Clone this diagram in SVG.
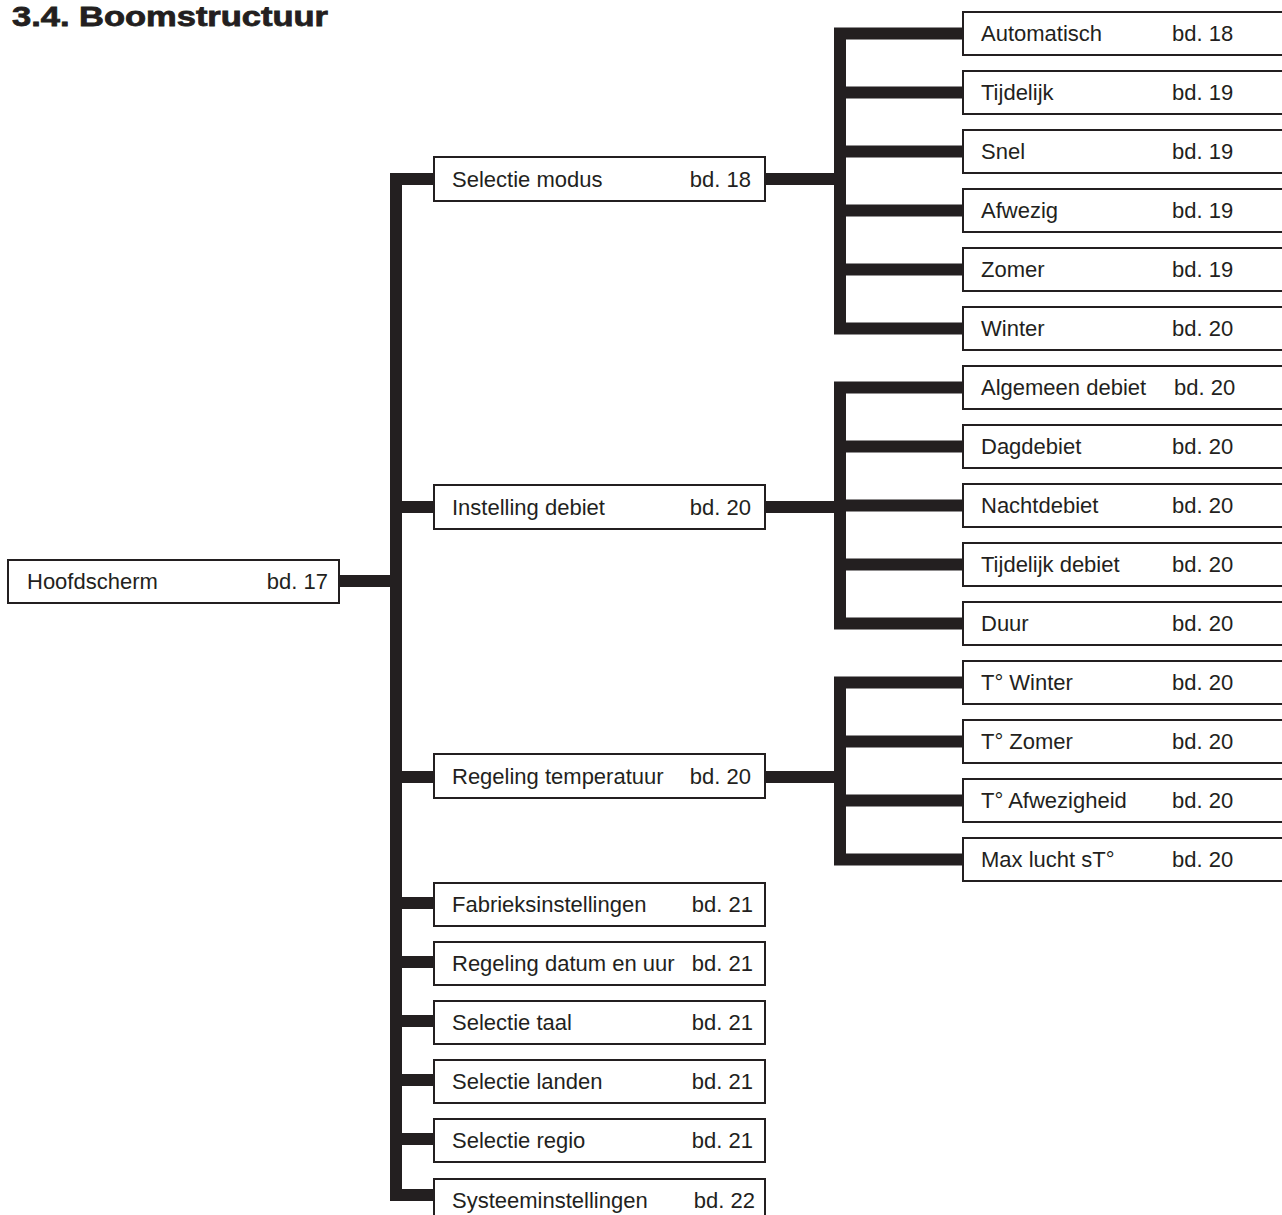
<svg xmlns="http://www.w3.org/2000/svg" width="1282" height="1215" viewBox="0 0 1282 1215">
<style>
.bx{fill:#fff;stroke:#231f20;stroke-width:2}
.t{font-family:"Liberation Sans",Arial,sans-serif;font-size:22px;fill:#231f20}
.e{text-anchor:end}
.c{fill:none;stroke:#231f20;stroke-width:12;stroke-linejoin:miter;stroke-linecap:butt}
.h{font-family:"Liberation Sans",Arial,sans-serif;font-size:28px;font-weight:bold;fill:#231f20;stroke:#231f20;stroke-width:0.8}
</style>
<rect width="1282" height="1215" fill="#fff"/>
<text class="h" x="12" y="26" textLength="316" lengthAdjust="spacingAndGlyphs">3.4. Boomstructuur</text>
<g id="connectors">
<path class="c" d="M339,581 H396"/>
<path class="c" d="M434,179 H396 V1195 H434"/>
<path class="c" d="M396,507 H434 M396,777 H434 M396,903 H434 M396,962 H434 M396,1021 H434 M396,1080 H434 M396,1139 H434"/>
<path class="c" d="M765,179 H840"/>
<path class="c" d="M963,33.5 H840 V328.5 H963"/>
<path class="c" d="M840,92.5 H963 M840,151.5 H963 M840,210.5 H963 M840,269.5 H963"/>
<path class="c" d="M765,507 H840"/>
<path class="c" d="M963,387.5 H840 V623.5 H963"/>
<path class="c" d="M840,446.5 H963 M840,505.5 H963 M840,564.5 H963"/>
<path class="c" d="M765,777 H840"/>
<path class="c" d="M963,682.5 H840 V859.5 H963"/>
<path class="c" d="M840,741.5 H963 M840,800.5 H963"/>
</g>
<g id="n-hoofdscherm"><rect class="bx" x="8" y="560" width="331" height="43"/><text class="t" x="27" y="589">Hoofdscherm</text><text class="t e" x="328" y="589">bd. 17</text></g>
<g id="n-selectie-modus"><rect class="bx" x="434" y="157" width="331" height="44"/><text class="t" x="452" y="187">Selectie modus</text><text class="t e" x="751" y="187">bd. 18</text></g>
<g id="n-instelling-debiet"><rect class="bx" x="434" y="485" width="331" height="44"/><text class="t" x="452" y="515">Instelling debiet</text><text class="t e" x="751" y="515">bd. 20</text></g>
<g id="n-regeling-temperatuur"><rect class="bx" x="434" y="754" width="331" height="44"/><text class="t" x="452" y="784">Regeling temperatuur</text><text class="t e" x="751" y="784">bd. 20</text></g>
<g id="n-fabrieksinstellingen"><rect class="bx" x="434" y="883" width="331" height="43"/><text class="t" x="452" y="912">Fabrieksinstellingen</text><text class="t e" x="753" y="912">bd. 21</text></g>
<g id="n-regeling-datum"><rect class="bx" x="434" y="942" width="331" height="43"/><text class="t" x="452" y="971">Regeling datum en uur</text><text class="t e" x="753" y="971">bd. 21</text></g>
<g id="n-selectie-taal"><rect class="bx" x="434" y="1001" width="331" height="43"/><text class="t" x="452" y="1030">Selectie taal</text><text class="t e" x="753" y="1030">bd. 21</text></g>
<g id="n-selectie-landen"><rect class="bx" x="434" y="1060" width="331" height="43"/><text class="t" x="452" y="1089">Selectie landen</text><text class="t e" x="753" y="1089">bd. 21</text></g>
<g id="n-selectie-regio"><rect class="bx" x="434" y="1119" width="331" height="43"/><text class="t" x="452" y="1148">Selectie regio</text><text class="t e" x="753" y="1148">bd. 21</text></g>
<g id="n-systeeminstellingen"><rect class="bx" x="434" y="1179" width="331" height="43"/><text class="t" x="452" y="1208">Systeeminstellingen</text><text class="t e" x="755" y="1208">bd. 22</text></g>
<g id="n-automatisch"><rect class="bx" x="963" y="12" width="340" height="43"/><text class="t" x="981" y="41">Automatisch</text><text class="t" x="1172" y="41">bd. 18</text></g>
<g id="n-tijdelijk"><rect class="bx" x="963" y="71" width="340" height="43"/><text class="t" x="981" y="100">Tijdelijk</text><text class="t" x="1172" y="100">bd. 19</text></g>
<g id="n-snel"><rect class="bx" x="963" y="130" width="340" height="43"/><text class="t" x="981" y="159">Snel</text><text class="t" x="1172" y="159">bd. 19</text></g>
<g id="n-afwezig"><rect class="bx" x="963" y="189" width="340" height="43"/><text class="t" x="981" y="218">Afwezig</text><text class="t" x="1172" y="218">bd. 19</text></g>
<g id="n-zomer"><rect class="bx" x="963" y="248" width="340" height="43"/><text class="t" x="981" y="277">Zomer</text><text class="t" x="1172" y="277">bd. 19</text></g>
<g id="n-winter"><rect class="bx" x="963" y="307" width="340" height="43"/><text class="t" x="981" y="336">Winter</text><text class="t" x="1172" y="336">bd. 20</text></g>
<g id="n-algemeen-debiet"><rect class="bx" x="963" y="366" width="340" height="43"/><text class="t" x="981" y="395">Algemeen debiet</text><text class="t" x="1174" y="395">bd. 20</text></g>
<g id="n-dagdebiet"><rect class="bx" x="963" y="425" width="340" height="43"/><text class="t" x="981" y="454">Dagdebiet</text><text class="t" x="1172" y="454">bd. 20</text></g>
<g id="n-nachtdebiet"><rect class="bx" x="963" y="484" width="340" height="43"/><text class="t" x="981" y="513">Nachtdebiet</text><text class="t" x="1172" y="513">bd. 20</text></g>
<g id="n-tijdelijk-debiet"><rect class="bx" x="963" y="543" width="340" height="43"/><text class="t" x="981" y="572">Tijdelijk debiet</text><text class="t" x="1172" y="572">bd. 20</text></g>
<g id="n-duur"><rect class="bx" x="963" y="602" width="340" height="43"/><text class="t" x="981" y="631">Duur</text><text class="t" x="1172" y="631">bd. 20</text></g>
<g id="n-t-winter"><rect class="bx" x="963" y="661" width="340" height="43"/><text class="t" x="981" y="690">T° Winter</text><text class="t" x="1172" y="690">bd. 20</text></g>
<g id="n-t-zomer"><rect class="bx" x="963" y="720" width="340" height="43"/><text class="t" x="981" y="749">T° Zomer</text><text class="t" x="1172" y="749">bd. 20</text></g>
<g id="n-t-afwezigheid"><rect class="bx" x="963" y="779" width="340" height="43"/><text class="t" x="981" y="808">T° Afwezigheid</text><text class="t" x="1172" y="808">bd. 20</text></g>
<g id="n-max-lucht"><rect class="bx" x="963" y="838" width="340" height="43"/><text class="t" x="981" y="867">Max lucht sT°</text><text class="t" x="1172" y="867">bd. 20</text></g>
</svg>
